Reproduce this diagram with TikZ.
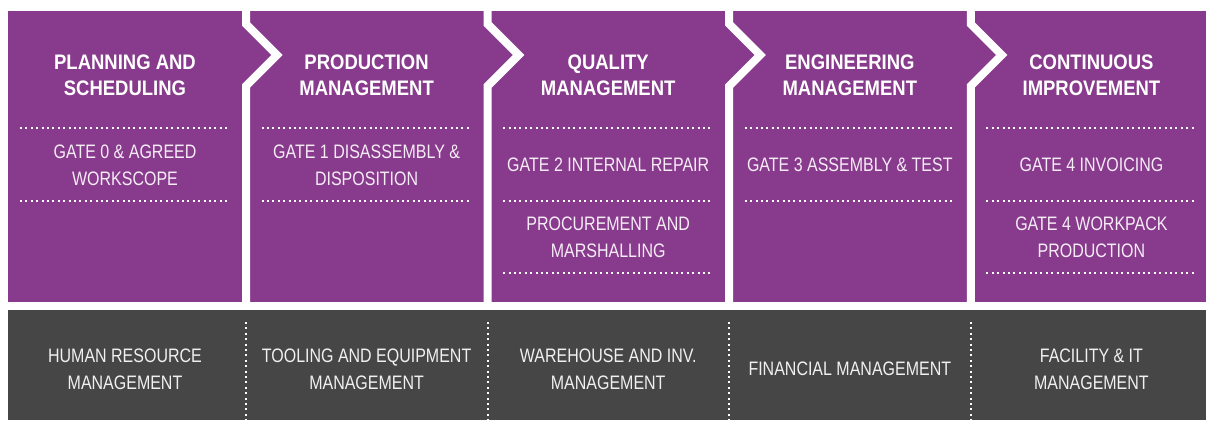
\documentclass[tikz,border=0pt]{standalone}
\usepackage{fontspec}
\newfontfamily\bodyf{Liberation Sans}[FakeStretch=0.82]
\newfontfamily\ttlf{Liberation Sans}[FakeStretch=0.88]
\definecolor{pur}{RGB}{136,59,140}
\definecolor{gry}{RGB}{70,70,70}
\definecolor{txtp}{RGB}{246,236,246}
\definecolor{txtg}{RGB}{240,240,240}
\begin{document}
\begin{tikzpicture}[x=1pt,y=-1pt,
  ttl/.style={text=white,font=\ttlf\bfseries\fontsize{21}{26}\selectfont,align=center,inner sep=0pt},
  body/.style={text=txtp,font=\bodyf\fontsize{19.5}{27}\selectfont,align=center,inner sep=0pt},
  gbody/.style={body,text=txtg},
  sepline/.style={draw=white,line width=8pt,line join=miter},
  dotline/.style={draw=white,line width=2pt,dash pattern=on 2pt off 3.4pt},
]
\useasboundingbox (0,0) rectangle (1206,420);
\fill[pur] (8,11) rectangle (1212,302);
\fill[gry] (8,310) rectangle (1212,420);
\foreach \c in {246,487.6,729.2,970.8}{
  \draw[sepline] (\c,4) -- (\c,24) -- (\c+31,55) -- (\c,86) -- (\c,306);
  \draw[dotline] (\c,322) -- (\c,420);
}
% horizontal dotted rules
\foreach \i in {0,1,2,3,4}{
  \draw[dotline] (20+241.6*\i,128) -- (230+241.6*\i,128);
  \draw[dotline] (20+241.6*\i,201) -- (230+241.6*\i,201);
}
\draw[dotline] (20+241.6*2,272.7) -- (230+241.6*2,272.7);
\draw[dotline] (20+241.6*4,272.7) -- (230+241.6*4,272.7);
% titles
\node[ttl] (t1) at (125,75) {PLANNING AND\\SCHEDULING};
\node[ttl] (t2) at (366.6,75) {PRODUCTION\\MANAGEMENT};
\node[ttl] (t3) at (608.2,75) {QUALITY\\MANAGEMENT};
\node[ttl] (t4) at (849.8,75) {ENGINEERING\\MANAGEMENT};
\node[ttl] (t5) at (1091.4,75) {CONTINUOUS\\IMPROVEMENT};
% body texts
\node[body] (b1) at (125,165.5) {GATE 0 \& AGREED\\WORKSCOPE};
\node[body] (b2) at (366.6,165.5) {GATE 1 DISASSEMBLY \&\\DISPOSITION};
\node[body] (b3) at (608.2,165) {GATE 2 INTERNAL REPAIR};
\node[body] (b3b) at (608.2,237) {PROCUREMENT AND\\MARSHALLING};
\node[body] (b4) at (849.8,165) {GATE 3 ASSEMBLY \& TEST};
\node[body] (b5) at (1091.4,165) {GATE 4 INVOICING};
\node[body] (b5b) at (1091.4,237) {GATE 4 WORKPACK\\PRODUCTION};
% gray row
\node[gbody] (g1) at (125,369.5) {HUMAN RESOURCE\\MANAGEMENT};
\node[gbody] (g2) at (366.6,369.5) {TOOLING AND EQUIPMENT\\MANAGEMENT};
\node[gbody] (g3) at (608.2,369.5) {WAREHOUSE AND INV.\\MANAGEMENT};
\node[gbody] (g4) at (849.8,368.5) {FINANCIAL MANAGEMENT};
\node[gbody] (g5) at (1091.4,369.5) {FACILITY \& IT\\MANAGEMENT};
\end{tikzpicture}
\end{document}
